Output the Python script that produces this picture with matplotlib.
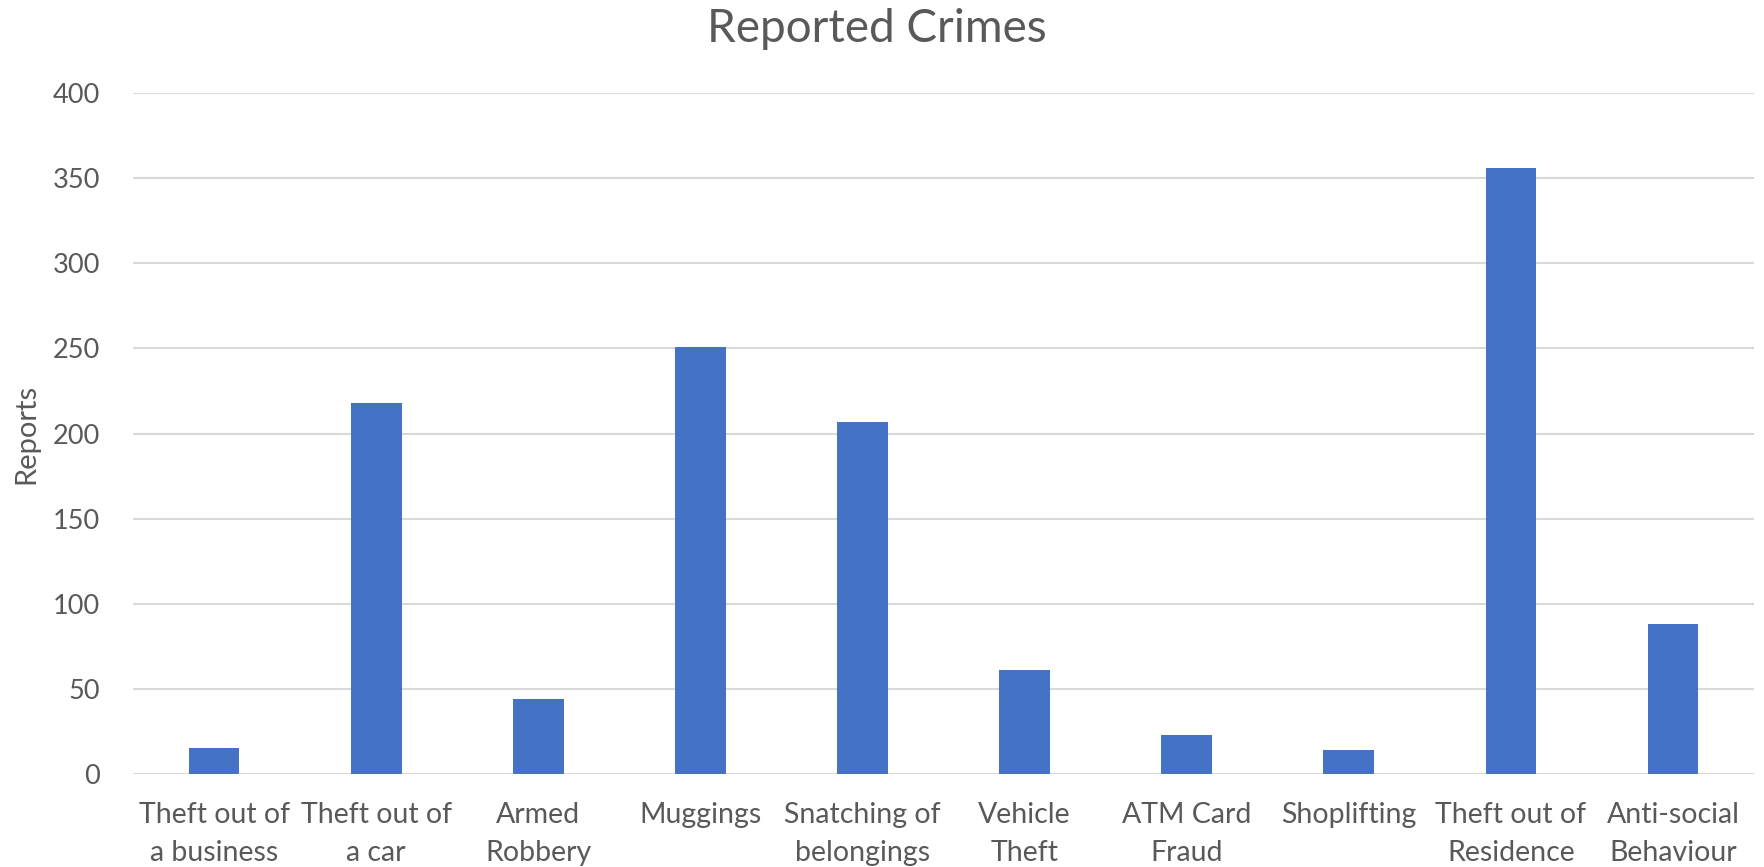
import numpy as np
import matplotlib
matplotlib.use('Agg')
import matplotlib.pyplot as plt

categories = ['Theft out of\na business', 'Theft out of\na car', 'Armed\nRobbery',
              'Muggings', 'Snatching of\nbelongings', 'Vehicle\nTheft',
              'ATM Card\nFraud', 'Shoplifting', 'Theft out of\nResidence',
              'Anti-social\nBehaviour']
reports = [15, 218, 44, 251, 207, 61, 23, 14, 356, 88]
yticks = [0, 50, 100, 150, 200, 250, 300, 350, 400]

plt.rcParams['font.family'] = ['Lato', 'DejaVu Sans']
grey = '#595959'

fig = plt.figure(figsize=(17.65, 8.67), dpi=100)
ax = fig.add_axes([0.0754, 0.1073, 0.9184, 0.7854])

x = np.arange(len(categories))
ax.bar(x, reports, width=0.313, color='#4472C4', zorder=3)

ax.set_xlim(-0.5, len(categories) - 0.5)
ax.set_ylim(0, 400)
ax.set_yticks(yticks)
ax.set_xticks(x)
ax.set_xticklabels(categories, fontsize=20.5, color=grey, linespacing=1.6)
ax.tick_params(axis='y', labelsize=19.5, labelcolor=grey, length=0, pad=24)
ax.tick_params(axis='x', length=0, pad=20)

ax.grid(axis='y', color='#D9D9D9', linewidth=1.5, zorder=0)
for s in ax.spines.values():
    s.set_visible(False)

ax.set_ylabel('Reports', fontsize=21, color=grey)
ax.yaxis.set_label_coords(-0.058, 0.5)
fig.text(0.497, 1 - 8 / 867, 'Reported Crimes', ha='center', va='top',
         fontsize=33, color=grey)

fig.savefig('out.png', dpi=100)
